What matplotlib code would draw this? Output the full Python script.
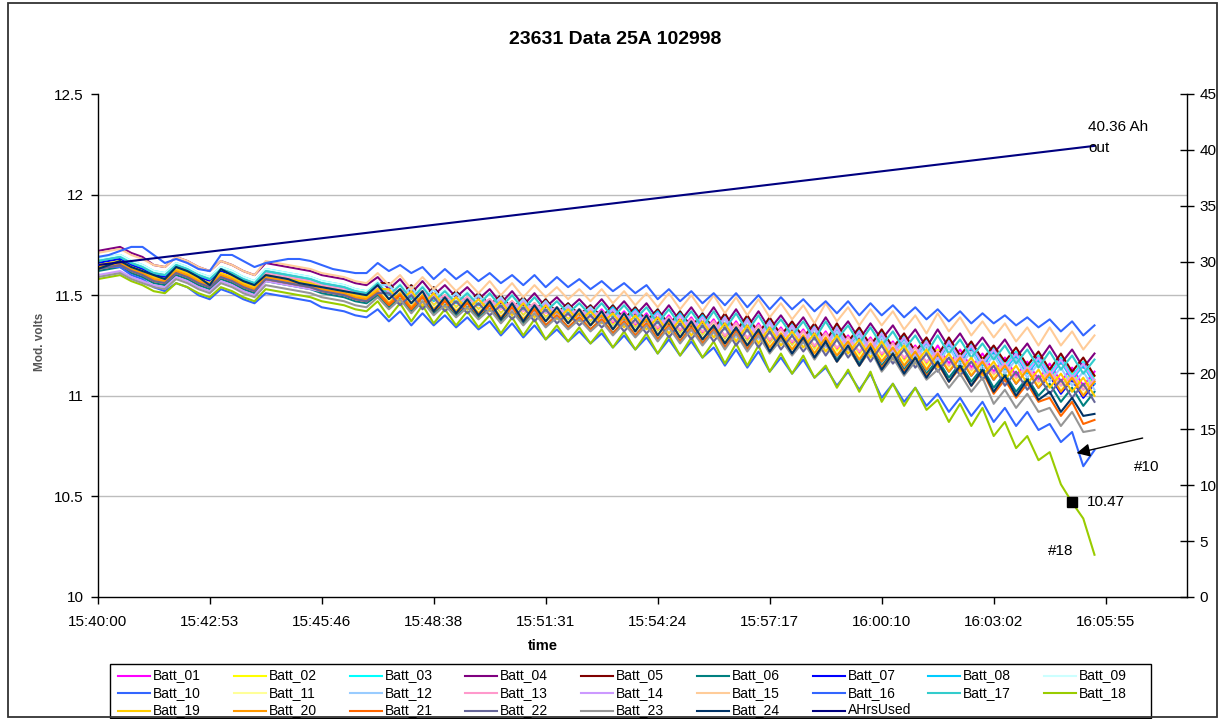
import matplotlib
matplotlib.use("Agg")
import matplotlib.pyplot as plt
from matplotlib.lines import Line2D
from matplotlib.patches import Rectangle

plt.rcParams['font.family'] = ['Liberation Sans', 'DejaVu Sans']

# ---------------- data ----------------
# one sample per ~17.3 s, a labelled tick every 10 samples
TIME_LABELS = ["15:40:00", "15:42:53", "15:45:46", "15:48:38", "15:51:31",
               "15:54:24", "15:57:17", "16:00:10", "16:03:02", "16:05:55"]
N_CATEGORIES = 97.26          # width of the category axis (in samples)

B01 = [11.65, 11.66, 11.67, 11.64, 11.62, 11.59, 11.58, 11.63, 11.61, 11.58,
       11.56, 11.61, 11.59, 11.56, 11.54, 11.60, 11.59, 11.58, 11.57, 11.56,
       11.54, 11.53, 11.52, 11.50, 11.49, 11.54, 11.48, 11.53, 11.46, 11.52,
       11.45, 11.50, 11.44, 11.49, 11.43, 11.48, 11.41, 11.47, 11.40, 11.46,
       11.39, 11.44, 11.38, 11.43, 11.37, 11.43, 11.36, 11.42, 11.35, 11.41,
       11.33, 11.40, 11.32, 11.39, 11.31, 11.38, 11.29, 11.37, 11.28, 11.36,
       11.27, 11.34, 11.26, 11.33, 11.24, 11.32, 11.23, 11.30, 11.21, 11.29,
       11.20, 11.27, 11.18, 11.25, 11.16, 11.25, 11.16, 11.23, 11.14, 11.21,
       11.12, 11.19, 11.10, 11.17, 11.08, 11.16, 11.07, 11.14, 11.05, 11.12]
B02 = [11.66, 11.67, 11.68, 11.65, 11.63, 11.60, 11.59, 11.64, 11.62, 11.59,
       11.57, 11.62, 11.60, 11.57, 11.55, 11.61, 11.60, 11.59, 11.58, 11.57,
       11.55, 11.54, 11.53, 11.51, 11.50, 11.54, 11.48, 11.53, 11.46, 11.52,
       11.45, 11.50, 11.44, 11.49, 11.43, 11.48, 11.41, 11.47, 11.40, 11.46,
       11.39, 11.44, 11.38, 11.43, 11.37, 11.42, 11.35, 11.41, 11.34, 11.40,
       11.32, 11.39, 11.31, 11.38, 11.30, 11.37, 11.28, 11.36, 11.27, 11.35,
       11.26, 11.33, 11.25, 11.32, 11.23, 11.31, 11.22, 11.29, 11.20, 11.28,
       11.19, 11.26, 11.17, 11.24, 11.15, 11.23, 11.14, 11.21, 11.12, 11.19,
       11.10, 11.17, 11.08, 11.15, 11.06, 11.14, 11.05, 11.12, 11.03, 11.10]
B03 = [11.68, 11.69, 11.70, 11.67, 11.65, 11.62, 11.61, 11.66, 11.64, 11.61,
       11.59, 11.64, 11.62, 11.59, 11.57, 11.63, 11.62, 11.61, 11.60, 11.59,
       11.57, 11.56, 11.55, 11.53, 11.52, 11.56, 11.56, 11.50, 11.55, 11.48,
       11.54, 11.47, 11.52, 11.46, 11.51, 11.45, 11.50, 11.43, 11.49, 11.42,
       11.48, 11.41, 11.46, 11.40, 11.45, 11.39, 11.45, 11.38, 11.44, 11.37,
       11.43, 11.35, 11.42, 11.34, 11.41, 11.33, 11.40, 11.31, 11.39, 11.30,
       11.38, 11.29, 11.36, 11.28, 11.35, 11.26, 11.35, 11.26, 11.33, 11.24,
       11.32, 11.23, 11.30, 11.21, 11.28, 11.19, 11.28, 11.19, 11.26, 11.17,
       11.24, 11.15, 11.22, 11.13, 11.20, 11.11, 11.19, 11.10, 11.17, 11.08]
B04 = [11.72, 11.73, 11.74, 11.71, 11.69, 11.65, 11.64, 11.69, 11.67, 11.64,
       11.62, 11.67, 11.65, 11.62, 11.60, 11.66, 11.65, 11.64, 11.63, 11.62,
       11.60, 11.59, 11.58, 11.56, 11.55, 11.59, 11.53, 11.58, 11.51, 11.57,
       11.50, 11.55, 11.49, 11.54, 11.48, 11.53, 11.46, 11.52, 11.45, 11.51,
       11.44, 11.49, 11.43, 11.48, 11.42, 11.48, 11.41, 11.47, 11.40, 11.46,
       11.38, 11.45, 11.37, 11.44, 11.36, 11.44, 11.35, 11.43, 11.34, 11.42,
       11.33, 11.40, 11.32, 11.39, 11.30, 11.39, 11.30, 11.37, 11.28, 11.36,
       11.28, 11.35, 11.26, 11.33, 11.24, 11.33, 11.24, 11.31, 11.22, 11.29,
       11.21, 11.28, 11.19, 11.26, 11.17, 11.25, 11.16, 11.23, 11.14, 11.21]
B05 = [11.67, 11.68, 11.69, 11.66, 11.64, 11.61, 11.60, 11.65, 11.63, 11.60,
       11.58, 11.63, 11.61, 11.58, 11.56, 11.62, 11.61, 11.60, 11.59, 11.58,
       11.56, 11.55, 11.54, 11.52, 11.51, 11.56, 11.56, 11.50, 11.55, 11.48,
       11.54, 11.47, 11.52, 11.46, 11.51, 11.45, 11.50, 11.43, 11.49, 11.42,
       11.48, 11.41, 11.46, 11.40, 11.45, 11.39, 11.45, 11.38, 11.44, 11.37,
       11.43, 11.35, 11.42, 11.34, 11.41, 11.33, 11.41, 11.32, 11.40, 11.31,
       11.39, 11.30, 11.37, 11.29, 11.36, 11.27, 11.36, 11.27, 11.34, 11.25,
       11.33, 11.24, 11.31, 11.22, 11.29, 11.20, 11.29, 11.20, 11.27, 11.18,
       11.25, 11.17, 11.24, 11.15, 11.22, 11.13, 11.21, 11.12, 11.19, 11.10]
B06 = [11.62, 11.63, 11.64, 11.61, 11.59, 11.56, 11.55, 11.60, 11.58, 11.55,
       11.53, 11.58, 11.56, 11.53, 11.51, 11.57, 11.56, 11.55, 11.54, 11.53,
       11.51, 11.50, 11.49, 11.47, 11.46, 11.50, 11.44, 11.49, 11.42, 11.48,
       11.41, 11.46, 11.40, 11.45, 11.39, 11.44, 11.37, 11.43, 11.36, 11.42,
       11.35, 11.40, 11.34, 11.39, 11.33, 11.38, 11.31, 11.37, 11.30, 11.36,
       11.28, 11.35, 11.27, 11.34, 11.26, 11.33, 11.24, 11.32, 11.23, 11.31,
       11.22, 11.29, 11.21, 11.28, 11.19, 11.27, 11.18, 11.25, 11.16, 11.24,
       11.15, 11.22, 11.13, 11.20, 11.11, 11.18, 11.09, 11.16, 11.07, 11.14,
       11.04, 11.11, 11.02, 11.09, 11.00, 11.06, 10.97, 11.04, 10.95, 11.02]
B07 = [11.66, 11.67, 11.68, 11.65, 11.63, 11.60, 11.59, 11.64, 11.62, 11.59,
       11.57, 11.62, 11.60, 11.57, 11.55, 11.61, 11.60, 11.59, 11.58, 11.57,
       11.55, 11.54, 11.53, 11.51, 11.50, 11.53, 11.47, 11.52, 11.45, 11.51,
       11.44, 11.49, 11.43, 11.48, 11.42, 11.47, 11.40, 11.46, 11.39, 11.45,
       11.38, 11.43, 11.37, 11.42, 11.36, 11.41, 11.34, 11.40, 11.33, 11.39,
       11.31, 11.38, 11.30, 11.37, 11.29, 11.36, 11.27, 11.35, 11.26, 11.34,
       11.25, 11.32, 11.24, 11.31, 11.22, 11.29, 11.20, 11.27, 11.18, 11.26,
       11.17, 11.24, 11.15, 11.22, 11.13, 11.21, 11.12, 11.19, 11.10, 11.17,
       11.08, 11.15, 11.06, 11.13, 11.04, 11.10, 11.01, 11.08, 10.99, 11.06]
B08 = [11.67, 11.68, 11.69, 11.66, 11.64, 11.61, 11.60, 11.65, 11.63, 11.60,
       11.58, 11.63, 11.61, 11.58, 11.56, 11.62, 11.61, 11.60, 11.59, 11.58,
       11.56, 11.55, 11.54, 11.52, 11.51, 11.55, 11.55, 11.49, 11.54, 11.47,
       11.53, 11.46, 11.51, 11.45, 11.50, 11.44, 11.49, 11.42, 11.48, 11.41,
       11.47, 11.40, 11.45, 11.39, 11.44, 11.38, 11.44, 11.37, 11.43, 11.36,
       11.42, 11.34, 11.41, 11.33, 11.40, 11.32, 11.39, 11.30, 11.38, 11.29,
       11.37, 11.28, 11.35, 11.27, 11.34, 11.25, 11.33, 11.24, 11.31, 11.22,
       11.30, 11.21, 11.28, 11.19, 11.26, 11.17, 11.26, 11.17, 11.24, 11.15,
       11.22, 11.13, 11.20, 11.11, 11.18, 11.09, 11.17, 11.08, 11.15, 11.06]
B09 = [11.68, 11.69, 11.70, 11.67, 11.65, 11.62, 11.61, 11.66, 11.64, 11.61,
       11.59, 11.64, 11.62, 11.59, 11.57, 11.63, 11.62, 11.61, 11.60, 11.59,
       11.57, 11.56, 11.55, 11.53, 11.52, 11.57, 11.51, 11.56, 11.49, 11.55,
       11.48, 11.53, 11.47, 11.52, 11.46, 11.51, 11.44, 11.50, 11.43, 11.49,
       11.42, 11.47, 11.41, 11.46, 11.40, 11.46, 11.39, 11.45, 11.38, 11.44,
       11.36, 11.43, 11.35, 11.42, 11.34, 11.42, 11.33, 11.41, 11.32, 11.40,
       11.31, 11.38, 11.30, 11.37, 11.28, 11.37, 11.28, 11.35, 11.26, 11.34,
       11.25, 11.32, 11.23, 11.30, 11.21, 11.30, 11.21, 11.28, 11.19, 11.26,
       11.18, 11.25, 11.16, 11.23, 11.14, 11.22, 11.13, 11.20, 11.11, 11.18]
B10 = [11.64, 11.64, 11.64, 11.60, 11.58, 11.54, 11.52, 11.56, 11.54, 11.50,
       11.48, 11.53, 11.51, 11.48, 11.46, 11.51, 11.50, 11.49, 11.48, 11.47,
       11.44, 11.43, 11.42, 11.40, 11.39, 11.43, 11.37, 11.42, 11.35, 11.41,
       11.35, 11.40, 11.34, 11.39, 11.33, 11.37, 11.30, 11.36, 11.29, 11.35,
       11.28, 11.33, 11.27, 11.32, 11.26, 11.31, 11.24, 11.30, 11.23, 11.29,
       11.21, 11.28, 11.20, 11.27, 11.19, 11.24, 11.15, 11.23, 11.14, 11.22,
       11.12, 11.19, 11.11, 11.18, 11.09, 11.14, 11.05, 11.12, 11.03, 11.11,
       10.99, 11.06, 10.97, 11.04, 10.95, 11.01, 10.92, 10.99, 10.90, 10.97,
       10.87, 10.94, 10.85, 10.92, 10.83, 10.86, 10.77, 10.82, 10.65, 10.73]
B11 = [11.64, 11.65, 11.66, 11.63, 11.61, 11.58, 11.57, 11.62, 11.60, 11.57,
       11.55, 11.60, 11.58, 11.55, 11.53, 11.59, 11.58, 11.57, 11.56, 11.55,
       11.53, 11.52, 11.51, 11.49, 11.48, 11.53, 11.47, 11.52, 11.45, 11.51,
       11.44, 11.49, 11.43, 11.48, 11.42, 11.47, 11.40, 11.46, 11.39, 11.45,
       11.38, 11.43, 11.37, 11.42, 11.36, 11.41, 11.34, 11.40, 11.33, 11.39,
       11.31, 11.38, 11.30, 11.37, 11.29, 11.36, 11.27, 11.35, 11.26, 11.34,
       11.25, 11.32, 11.24, 11.31, 11.22, 11.30, 11.21, 11.28, 11.19, 11.27,
       11.18, 11.25, 11.16, 11.23, 11.14, 11.22, 11.13, 11.20, 11.11, 11.18,
       11.09, 11.16, 11.07, 11.14, 11.05, 11.12, 11.03, 11.10, 11.01, 11.08]
B12 = [11.65, 11.66, 11.67, 11.64, 11.62, 11.59, 11.58, 11.63, 11.61, 11.58,
       11.56, 11.61, 11.59, 11.56, 11.54, 11.61, 11.60, 11.59, 11.58, 11.57,
       11.55, 11.54, 11.53, 11.51, 11.50, 11.55, 11.55, 11.49, 11.54, 11.47,
       11.53, 11.46, 11.51, 11.45, 11.50, 11.44, 11.49, 11.42, 11.48, 11.41,
       11.47, 11.40, 11.45, 11.39, 11.44, 11.38, 11.43, 11.36, 11.42, 11.35,
       11.41, 11.33, 11.40, 11.32, 11.39, 11.31, 11.38, 11.29, 11.37, 11.28,
       11.36, 11.27, 11.34, 11.26, 11.33, 11.24, 11.32, 11.23, 11.30, 11.21,
       11.29, 11.20, 11.27, 11.18, 11.25, 11.16, 11.24, 11.15, 11.22, 11.13,
       11.20, 11.11, 11.18, 11.09, 11.16, 11.07, 11.14, 11.05, 11.12, 11.03]
B13 = [11.64, 11.65, 11.66, 11.63, 11.61, 11.59, 11.58, 11.63, 11.61, 11.58,
       11.56, 11.61, 11.59, 11.56, 11.54, 11.61, 11.60, 11.59, 11.58, 11.57,
       11.55, 11.54, 11.53, 11.51, 11.50, 11.54, 11.50, 11.53, 11.48, 11.52,
       11.47, 11.50, 11.46, 11.49, 11.45, 11.48, 11.43, 11.47, 11.42, 11.46,
       11.41, 11.44, 11.40, 11.43, 11.39, 11.42, 11.37, 11.41, 11.36, 11.40,
       11.34, 11.39, 11.33, 11.38, 11.32, 11.37, 11.30, 11.36, 11.29, 11.35,
       11.28, 11.33, 11.27, 11.32, 11.25, 11.31, 11.24, 11.29, 11.22, 11.28,
       11.21, 11.26, 11.19, 11.24, 11.17, 11.22, 11.15, 11.20, 11.13, 11.18,
       11.11, 11.16, 11.09, 11.14, 11.07, 11.12, 11.05, 11.10, 11.03, 11.08]
B14 = [11.60, 11.61, 11.62, 11.59, 11.57, 11.55, 11.54, 11.59, 11.57, 11.54,
       11.52, 11.57, 11.55, 11.52, 11.50, 11.57, 11.56, 11.55, 11.54, 11.53,
       11.52, 11.51, 11.50, 11.48, 11.47, 11.52, 11.52, 11.46, 11.51, 11.44,
       11.50, 11.44, 11.49, 11.43, 11.48, 11.42, 11.48, 11.41, 11.47, 11.40,
       11.46, 11.39, 11.44, 11.38, 11.43, 11.37, 11.43, 11.36, 11.42, 11.35,
       11.41, 11.33, 11.40, 11.32, 11.39, 11.31, 11.39, 11.30, 11.38, 11.29,
       11.37, 11.28, 11.35, 11.27, 11.34, 11.25, 11.34, 11.25, 11.32, 11.23,
       11.31, 11.22, 11.29, 11.20, 11.27, 11.18, 11.27, 11.18, 11.25, 11.16,
       11.23, 11.14, 11.21, 11.12, 11.19, 11.10, 11.18, 11.09, 11.16, 11.07]
B15 = [11.71, 11.72, 11.73, 11.70, 11.68, 11.65, 11.64, 11.69, 11.67, 11.64,
       11.62, 11.67, 11.65, 11.62, 11.60, 11.67, 11.66, 11.65, 11.64, 11.63,
       11.61, 11.60, 11.59, 11.57, 11.56, 11.61, 11.55, 11.60, 11.53, 11.59,
       11.53, 11.58, 11.52, 11.57, 11.51, 11.57, 11.50, 11.56, 11.49, 11.55,
       11.49, 11.54, 11.48, 11.53, 11.47, 11.53, 11.46, 11.52, 11.45, 11.51,
       11.44, 11.51, 11.43, 11.50, 11.42, 11.50, 11.41, 11.49, 11.40, 11.48,
       11.39, 11.46, 11.38, 11.45, 11.36, 11.46, 11.37, 11.44, 11.35, 11.43,
       11.35, 11.42, 11.33, 11.40, 11.31, 11.41, 11.32, 11.39, 11.30, 11.37,
       11.29, 11.36, 11.27, 11.34, 11.25, 11.34, 11.25, 11.32, 11.23, 11.30]
B16 = [11.69, 11.70, 11.72, 11.74, 11.74, 11.70, 11.66, 11.68, 11.66, 11.63,
       11.62, 11.70, 11.70, 11.67, 11.64, 11.66, 11.67, 11.68, 11.68, 11.67,
       11.65, 11.63, 11.62, 11.61, 11.61, 11.66, 11.62, 11.65, 11.61, 11.64,
       11.58, 11.63, 11.58, 11.62, 11.57, 11.61, 11.56, 11.60, 11.55, 11.60,
       11.54, 11.59, 11.54, 11.58, 11.53, 11.57, 11.52, 11.56, 11.51, 11.55,
       11.48, 11.53, 11.47, 11.52, 11.46, 11.51, 11.45, 11.51, 11.44, 11.50,
       11.43, 11.49, 11.43, 11.48, 11.42, 11.47, 11.41, 11.47, 11.40, 11.46,
       11.40, 11.45, 11.39, 11.44, 11.38, 11.43, 11.37, 11.42, 11.36, 11.41,
       11.36, 11.40, 11.35, 11.39, 11.34, 11.38, 11.32, 11.37, 11.30, 11.35]
B17 = [11.67, 11.68, 11.69, 11.66, 11.64, 11.61, 11.60, 11.65, 11.63, 11.60,
       11.58, 11.63, 11.61, 11.58, 11.56, 11.62, 11.61, 11.60, 11.59, 11.58,
       11.56, 11.55, 11.54, 11.52, 11.51, 11.56, 11.50, 11.55, 11.48, 11.54,
       11.47, 11.52, 11.46, 11.51, 11.45, 11.51, 11.44, 11.50, 11.43, 11.49,
       11.42, 11.47, 11.41, 11.46, 11.40, 11.46, 11.39, 11.45, 11.38, 11.44,
       11.36, 11.43, 11.35, 11.42, 11.34, 11.42, 11.33, 11.41, 11.32, 11.40,
       11.31, 11.38, 11.30, 11.37, 11.28, 11.37, 11.28, 11.35, 11.26, 11.34,
       11.25, 11.32, 11.23, 11.30, 11.21, 11.30, 11.21, 11.28, 11.19, 11.26,
       11.18, 11.25, 11.16, 11.23, 11.14, 11.22, 11.13, 11.20, 11.11, 11.18]
B18 = [11.58, 11.59, 11.60, 11.57, 11.55, 11.52, 11.51, 11.56, 11.54, 11.51,
       11.49, 11.54, 11.52, 11.49, 11.47, 11.53, 11.52, 11.51, 11.50, 11.49,
       11.47, 11.46, 11.45, 11.43, 11.42, 11.47, 11.39, 11.46, 11.37, 11.45,
       11.36, 11.43, 11.35, 11.42, 11.34, 11.40, 11.31, 11.39, 11.30, 11.38,
       11.28, 11.35, 11.27, 11.34, 11.26, 11.33, 11.24, 11.32, 11.23, 11.31,
       11.21, 11.30, 11.20, 11.29, 11.19, 11.27, 11.16, 11.26, 11.15, 11.25,
       11.12, 11.21, 11.11, 11.20, 11.09, 11.15, 11.04, 11.13, 11.02, 11.12,
       10.97, 11.06, 10.95, 11.04, 10.93, 10.98, 10.87, 10.96, 10.85, 10.94,
       10.80, 10.87, 10.74, 10.80, 10.68, 10.72, 10.56, 10.47, 10.39, 10.21]
B19 = [11.65, 11.66, 11.67, 11.64, 11.62, 11.59, 11.58, 11.63, 11.61, 11.58,
       11.56, 11.61, 11.59, 11.56, 11.54, 11.60, 11.59, 11.58, 11.57, 11.56,
       11.54, 11.53, 11.52, 11.50, 11.49, 11.53, 11.53, 11.47, 11.52, 11.45,
       11.51, 11.44, 11.49, 11.43, 11.48, 11.42, 11.47, 11.40, 11.46, 11.39,
       11.45, 11.38, 11.43, 11.37, 11.42, 11.36, 11.41, 11.34, 11.40, 11.33,
       11.39, 11.31, 11.38, 11.30, 11.37, 11.29, 11.36, 11.27, 11.35, 11.26,
       11.34, 11.25, 11.32, 11.24, 11.31, 11.22, 11.30, 11.21, 11.28, 11.19,
       11.27, 11.18, 11.25, 11.16, 11.23, 11.14, 11.21, 11.12, 11.19, 11.10,
       11.17, 11.08, 11.15, 11.06, 11.13, 11.04, 11.11, 11.02, 11.09, 11.00]
B20 = [11.64, 11.65, 11.66, 11.63, 11.61, 11.58, 11.57, 11.62, 11.60, 11.57,
       11.55, 11.60, 11.58, 11.55, 11.53, 11.59, 11.58, 11.57, 11.56, 11.55,
       11.53, 11.52, 11.51, 11.49, 11.48, 11.52, 11.46, 11.51, 11.44, 11.50,
       11.43, 11.48, 11.42, 11.47, 11.41, 11.46, 11.39, 11.45, 11.38, 11.44,
       11.37, 11.42, 11.36, 11.41, 11.35, 11.40, 11.33, 11.39, 11.32, 11.38,
       11.30, 11.37, 11.29, 11.36, 11.28, 11.35, 11.26, 11.34, 11.25, 11.33,
       11.24, 11.31, 11.23, 11.30, 11.21, 11.29, 11.20, 11.27, 11.18, 11.26,
       11.17, 11.24, 11.15, 11.22, 11.13, 11.21, 11.12, 11.19, 11.10, 11.17,
       11.08, 11.15, 11.06, 11.13, 11.04, 11.11, 11.02, 11.09, 11.00, 11.07]
B21 = [11.63, 11.64, 11.65, 11.62, 11.60, 11.57, 11.56, 11.61, 11.59, 11.56,
       11.54, 11.59, 11.57, 11.54, 11.52, 11.58, 11.57, 11.56, 11.55, 11.54,
       11.52, 11.51, 11.50, 11.48, 11.47, 11.51, 11.45, 11.50, 11.43, 11.49,
       11.42, 11.47, 11.41, 11.46, 11.40, 11.45, 11.38, 11.44, 11.37, 11.43,
       11.35, 11.40, 11.34, 11.39, 11.33, 11.38, 11.31, 11.37, 11.30, 11.36,
       11.28, 11.35, 11.27, 11.34, 11.26, 11.33, 11.24, 11.32, 11.23, 11.31,
       11.22, 11.29, 11.21, 11.28, 11.19, 11.26, 11.17, 11.24, 11.15, 11.23,
       11.14, 11.21, 11.12, 11.19, 11.10, 11.16, 11.07, 11.14, 11.05, 11.12,
       11.01, 11.08, 10.99, 11.06, 10.97, 10.99, 10.90, 10.97, 10.86, 10.88]
B22 = [11.63, 11.64, 11.65, 11.62, 11.60, 11.57, 11.56, 11.61, 11.59, 11.56,
       11.54, 11.59, 11.57, 11.54, 11.52, 11.58, 11.57, 11.56, 11.55, 11.54,
       11.52, 11.51, 11.50, 11.48, 11.47, 11.51, 11.51, 11.45, 11.50, 11.43,
       11.49, 11.42, 11.47, 11.41, 11.46, 11.40, 11.45, 11.38, 11.44, 11.37,
       11.43, 11.36, 11.41, 11.35, 11.40, 11.34, 11.39, 11.32, 11.38, 11.31,
       11.37, 11.29, 11.36, 11.28, 11.35, 11.27, 11.34, 11.25, 11.33, 11.24,
       11.32, 11.23, 11.30, 11.22, 11.29, 11.20, 11.28, 11.19, 11.26, 11.17,
       11.25, 11.16, 11.23, 11.14, 11.21, 11.12, 11.19, 11.10, 11.17, 11.08,
       11.15, 11.05, 11.12, 11.03, 11.10, 11.01, 11.08, 10.99, 11.06, 10.97]
B23 = [11.59, 11.60, 11.61, 11.58, 11.56, 11.54, 11.53, 11.58, 11.56, 11.53,
       11.51, 11.56, 11.54, 11.51, 11.49, 11.55, 11.54, 11.53, 11.52, 11.51,
       11.49, 11.48, 11.47, 11.45, 11.44, 11.49, 11.43, 11.48, 11.41, 11.47,
       11.40, 11.45, 11.39, 11.44, 11.38, 11.43, 11.36, 11.42, 11.35, 11.41,
       11.34, 11.39, 11.33, 11.38, 11.32, 11.37, 11.30, 11.36, 11.29, 11.35,
       11.27, 11.34, 11.26, 11.33, 11.25, 11.32, 11.23, 11.31, 11.22, 11.30,
       11.21, 11.28, 11.20, 11.27, 11.18, 11.26, 11.17, 11.24, 11.15, 11.23,
       11.12, 11.19, 11.10, 11.17, 11.08, 11.13, 11.04, 11.11, 11.02, 11.09,
       10.96, 11.03, 10.94, 11.01, 10.92, 10.94, 10.85, 10.92, 10.82, 10.83]
B24 = [11.63, 11.65, 11.67, 11.64, 11.62, 11.60, 11.58, 11.64, 11.62, 11.59,
       11.55, 11.63, 11.60, 11.57, 11.55, 11.60, 11.59, 11.58, 11.56, 11.55,
       11.54, 11.53, 11.52, 11.51, 11.50, 11.55, 11.48, 11.53, 11.46, 11.52,
       11.42, 11.49, 11.41, 11.48, 11.40, 11.47, 11.38, 11.46, 11.37, 11.45,
       11.37, 11.44, 11.36, 11.43, 11.35, 11.42, 11.33, 11.41, 11.32, 11.40,
       11.30, 11.38, 11.29, 11.37, 11.28, 11.35, 11.26, 11.34, 11.25, 11.33,
       11.22, 11.30, 11.21, 11.29, 11.19, 11.27, 11.17, 11.25, 11.15, 11.24,
       11.13, 11.21, 11.11, 11.19, 11.09, 11.17, 11.07, 11.15, 11.05, 11.13,
       11.02, 11.10, 11.00, 11.08, 10.98, 11.02, 10.92, 10.99, 10.90, 10.91]

# cumulative amp-hours (secondary axis), straight line from first to last sample
AHRS_IDX = [0, 89]
AHRS = [29.7, 40.36]

BATTS = [B01, B02, B03, B04, B05, B06, B07, B08, B09, B10, B11, B12,
         B13, B14, B15, B16, B17, B18, B19, B20, B21, B22, B23, B24]
NAMES = ["Batt_%02d" % (k + 1) for k in range(24)] + ["AHrsUsed"]
COLORS = ["#FF00FF", "#FFFF00", "#00FFFF", "#800080", "#800000", "#008080",
          "#0000FF", "#00CCFF", "#CCFFFF", "#3366FF", "#FFFF99", "#99CCFF",
          "#FF99CC", "#CC99FF", "#FFCC99", "#3366FF", "#33CCCC", "#99CC00",
          "#FFCC00", "#FF9900", "#FF6600", "#666699", "#969696", "#003366",
          "#000080"]

YTICKS = [10, 10.5, 11, 11.5, 12, 12.5]
Y2TICKS = list(range(0, 50, 5))

# ---------------- figure ----------------
W, H = 1220, 719
fig = plt.figure(figsize=(W / 100, H / 100), dpi=100)


def fx(px):
    return px / W


def fy(py):
    return 1 - py / H


ax = fig.add_axes([fx(97.7), fy(597), fx(1187) - fx(97.7), fy(94) - fy(597)])
ax2 = ax.twinx()

for v in YTICKS[1:-1]:
    ax.axhline(v, color="#BDBDBD", lw=1.0, zorder=0)

for vals, col in zip(BATTS, COLORS):
    ax.plot(range(len(vals)), vals, color=col, lw=1.5, zorder=2)

ax2.plot(AHRS_IDX, AHRS, color=COLORS[-1], lw=1.5)

ax.set_xlim(0, N_CATEGORIES)
ax.set_ylim(YTICKS[0], YTICKS[-1])
ax2.set_ylim(Y2TICKS[0], Y2TICKS[-1])
ax.set_xticks(range(0, 10 * len(TIME_LABELS), 10))
ax.set_xticklabels(TIME_LABELS)
ax.set_yticks(YTICKS)
ax.set_yticklabels(["10", "10.5", "11", "11.5", "12", "12.5"])
ax2.set_yticks(Y2TICKS)

for a in (ax, ax2):
    a.spines["top"].set_visible(False)
for s in ("left", "bottom"):
    ax2.spines[s].set_visible(False)
ax.spines["right"].set_visible(False)
for a in (ax, ax2):
    for s in a.spines.values():
        s.set_linewidth(1.0)
        s.set_color("black")

ax.tick_params(axis="x", direction="out", length=5, width=1, pad=8, labelsize=11)
ax.tick_params(axis="y", direction="out", length=5, width=1, pad=5, labelsize=11)
ax2.tick_params(axis="y", direction="inout", length=10, width=1, pad=4, labelsize=11)

# ---- annotations ----
i18 = 87
ax.plot([i18], [B18[i18]], marker="s", ms=7, color="black", zorder=6)
ax.annotate(f"{B18[i18]:.2f}", (i18, B18[i18]), xytext=(15, 0),
            textcoords="offset pixels", fontsize=11, va="center", ha="left")
ax.annotate("#18", (len(B18) - 1, B18[-1]), xytext=(-47, 4),
            textcoords="offset pixels", fontsize=11, va="center", ha="left")
ax.annotate("#10", (len(B10) - 1, B10[-1]), xytext=(39, -17),
            textcoords="offset pixels", fontsize=11, va="center", ha="left")
ax.annotate("", xy=(87.4, 10.715), xytext=(93.3, 10.79),
            arrowprops=dict(arrowstyle="-|>", color="black", lw=1.0,
                            mutation_scale=20, shrinkA=0, shrinkB=0))
ax2.annotate(f"{AHRS[-1]:.2f} Ah\nout", (AHRS_IDX[-1], AHRS[-1]), xytext=(-6, 26),
             textcoords="offset pixels", fontsize=11, va="top", ha="left",
             linespacing=1.65)

# ---- titles ----
fig.text(fx(615), fy(40), "23631 Data 25A 102998", ha="center", va="center",
         fontsize=14, weight="bold")
fig.text(fx(543), fy(646), "time", ha="center", va="center",
         fontsize=10.5, weight="bold")
fig.text(fx(40), fy(342), "Mod. volts", ha="center", va="center", rotation=90,
         fontsize=8.5, weight="bold", color="#555555")

# ---- legend (9 columns, filled row by row) ----
fig.add_artist(Rectangle((fx(110), fy(718)), fx(1151) - fx(110), fy(664) - fy(718),
                         transform=fig.transFigure, fill=False, ec="black", lw=1.0))
for k, (name, col) in enumerate(zip(NAMES, COLORS)):
    r, c = divmod(k, 9)
    x0 = 118 + 115.75 * c
    yy = 675.5 + 17.5 * r
    fig.add_artist(Line2D([fx(x0), fx(x0 + 32)], [fy(yy), fy(yy)],
                          transform=fig.transFigure, color=col, lw=1.5))
    fig.text(fx(x0 + 35), fy(yy), name, fontsize=10, va="center", ha="left")

# chart-area border
fig.add_artist(Rectangle((fx(8), fy(717)), fx(1217) - fx(8), fy(3) - fy(717),
                         transform=fig.transFigure, fill=False, ec="#333333", lw=1.3))

fig.savefig("out.png", dpi=100)
